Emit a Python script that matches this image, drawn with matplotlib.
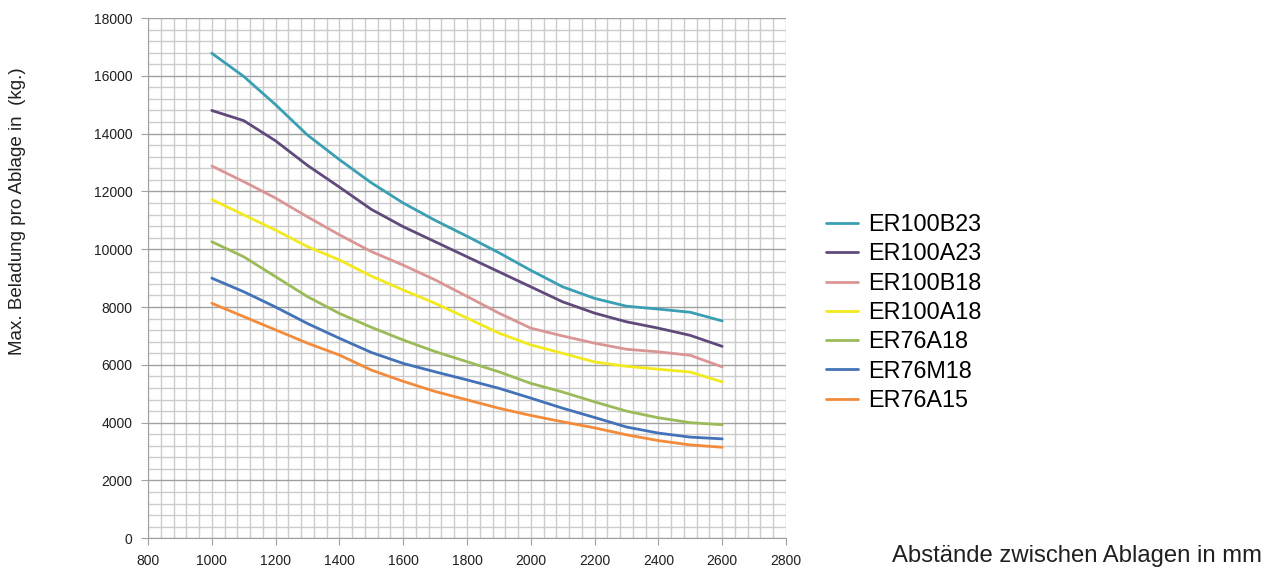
import matplotlib
matplotlib.use('Agg')
import matplotlib.pyplot as plt
from matplotlib.ticker import MultipleLocator
import numpy as np

plt.rcParams['font.family'] = ['Liberation Sans', 'DejaVu Sans']

# Abstand zwischen Ablagen (mm)
abstand = [1000, 1100, 1200, 1300, 1400, 1500, 1600, 1700, 1800,
           1900, 2000, 2100, 2200, 2300, 2400, 2500, 2600]

er100b23 = [16780, 15980, 15000, 13950, 13100, 12300, 11600, 11000, 10450,
            9880, 9270, 8700, 8300, 8030, 7930, 7820, 7520]
er100a23 = [14800, 14450, 13750, 12900, 12150, 11380, 10780, 10260, 9740,
            9220, 8700, 8180, 7790, 7490, 7270, 7020, 6640]
er100b18 = [12880, 12340, 11770, 11120, 10500, 9920, 9450, 8940, 8370,
            7790, 7270, 7000, 6750, 6540, 6450, 6330, 5930]
er100a18 = [11720, 11190, 10660, 10090, 9630, 9070, 8590, 8130, 7620,
            7100, 6690, 6400, 6100, 5950, 5850, 5750, 5410]
er76a18 = [10260, 9740, 9050, 8360, 7780, 7300, 6860, 6460, 6110,
           5760, 5360, 5060, 4720, 4400, 4170, 4000, 3930]
er76m18 = [9000, 8530, 8000, 7430, 6920, 6430, 6050, 5760, 5480,
           5190, 4850, 4500, 4180, 3850, 3640, 3500, 3440]
er76a15 = [8130, 7670, 7210, 6750, 6340, 5820, 5430, 5080, 4790,
           4500, 4250, 4030, 3820, 3580, 3380, 3230, 3150]

namen = ['ER100B23', 'ER100A23', 'ER100B18', 'ER100A18', 'ER76A18', 'ER76M18', 'ER76A15']
farben = ['#3A9FB3', '#604A7B', '#D99694', '#F2EA1E', '#9BBB59', '#4372B8', '#F38B3C']
reihen = [er100b23, er100a23, er100b18, er100a18, er76a18, er76m18, er76a15]

fig = plt.figure(figsize=(12.76, 5.77), dpi=100)
ax = fig.add_axes([148/1276, 1-538.3/577, (786-148)/1276, (538.3-18)/577])

for werte, name, farbe in zip(reihen, namen, farben):
    ax.plot(abstand, werte, color=farbe, lw=2.0, label=name, solid_capstyle='round')

ax.set_xlim(800, 2800)
ax.set_ylim(0, 18000)
ax.xaxis.set_major_locator(MultipleLocator(200))
ax.xaxis.set_minor_locator(MultipleLocator(40))
ax.yaxis.set_major_locator(MultipleLocator(2000))
ax.yaxis.set_minor_locator(MultipleLocator(400))
ax.grid(which='minor', color='#cccccc', lw=1.0)
ax.grid(which='major', axis='x', color='#cccccc', lw=1.0)
ax.grid(which='major', axis='y', color='#a0a0a0', lw=1.0)
ax.set_axisbelow(True)
for s in ['top', 'right']:
    ax.spines[s].set_visible(False)
for s in ['left', 'bottom']:
    ax.spines[s].set_color('#a0a0a0')
ax.tick_params(which='minor', length=0)
ax.tick_params(which='major', length=5, color='#a0a0a0', labelsize=10,
               labelcolor='#202020', pad=6)

fig.text(18/1276, 1-211/577, 'Max. Beladung pro Ablage in  (kg.)', rotation=90,
         ha='center', va='center', fontsize=13.5, color='#202020')
fig.text(892/1276, 1-556/577, 'Abstände zwischen Ablagen in mm', ha='left',
         va='center', fontsize=17.2, color='#202020')

fig.legend(loc='center left', bbox_to_anchor=(826/1276, 1-312.5/577), frameon=False,
           fontsize=16.8, handlelength=1.35, handletextpad=0.45, labelspacing=0.27,
           borderpad=0, borderaxespad=0)

fig.savefig('out.png', dpi=100)
